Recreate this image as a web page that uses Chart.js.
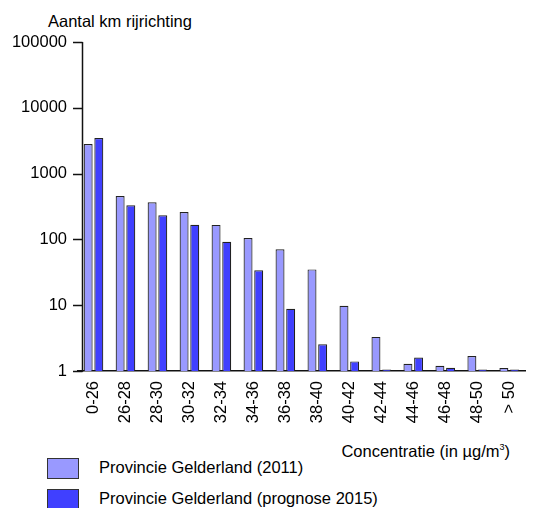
<!DOCTYPE html>
<html>
<head>
<meta charset="utf-8">
<script src="https://cdn.jsdelivr.net/npm/chart.js@4"></script>
<style>
  html, body { margin: 0; padding: 0; background: #fff; }
  body { width: 533px; height: 508px; overflow: hidden; position: relative;
         font-family: "Liberation Sans", Arial, sans-serif; font-size: 16.5px; color: #000; }
  .txt { position: absolute; line-height: 16.5px; white-space: nowrap; }
  .box { position: absolute; width: 32px; height: 21px; border: 1px solid #333; box-sizing: border-box; }
  sup { font-size: 9px; vertical-align: 7px; line-height: 0; }
</style>
</head>
<body>
<div class="txt" style="left:48px; top:13px;">Aantal km rijrichting</div>
<canvas id="myChart" width="539" height="440" style="position:absolute; left:0; top:0;"></canvas>
<div class="txt" style="right:23px; top:443px;">Concentratie (in µg/m<sup>3</sup>)</div>
<div id="legend"></div>

<script>
// klassen concentratie (x-as)
const categories = ["0-26", "26-28", "28-30", "30-32", "32-34", "34-36", "36-38",
  "38-40", "40-42", "42-44", "44-46", "46-48", "48-50", "> 50"];

// aantal km rijrichting
const values2011 = [2820, 457, 366, 261, 166, 105, 71, 35, 9.8, 3.3, 1.29, 1.2, 1.69, 1.11];
const values2015 = [3470, 330, 232, 167, 92, 34, 8.8, 2.54, 1.4, 1.05, 1.6, 1.12, 1.05, 1.05];

const seriesLabels = ["Provincie Gelderland (2011)", "Provincie Gelderland (prognose 2015)"];
const seriesColors = ["#9999ff", "#4040ff"];

// y-as ticks (log)
const yTicks = [1, 10, 100, 1000, 10000, 100000];

Chart.defaults.font.family = '"Liberation Sans", Arial, sans-serif';
Chart.defaults.font.size = 16.5;
Chart.defaults.color = "#000";

// eigen y-as lijn + streepjes (staan iets rechts van de categorie-rand)
const axisPlugin = {
  id: "axisLine",
  afterDraw(chart) {
    const ctx = chart.ctx;
    const y = chart.scales.y;
    const ax = 82.5;
    ctx.save();
    ctx.strokeStyle = "#111";
    ctx.lineWidth = 1.5;
    ctx.beginPath();
    ctx.moveTo(ax, y.getPixelForValue(yTicks[yTicks.length - 1]));
    ctx.lineTo(ax, y.getPixelForValue(yTicks[0]) + 0.75);
    for (const t of yTicks) {
      const py = Math.round(y.getPixelForValue(t)) + 0.5;
      ctx.moveTo(73, py);
      ctx.lineTo(ax, py);
    }
    ctx.stroke();
    ctx.restore();
  },
};

const ctx = document.getElementById("myChart").getContext("2d");
const myChart = new Chart(ctx, {
  type: "bar",
  data: {
    labels: categories,
    datasets: [
      {
        label: seriesLabels[0],
        data: values2011,
        backgroundColor: seriesColors[0],
        borderColor: "#222",
        borderWidth: 1.2,
        categoryPercentage: 0.667,
        barPercentage: 0.84,
      },
      {
        label: seriesLabels[1],
        data: values2015,
        backgroundColor: seriesColors[1],
        borderColor: "#222",
        borderWidth: 1.2,
        categoryPercentage: 0.667,
        barPercentage: 0.84,
      },
    ],
  },
  options: {
    responsive: false,
    animation: false,
    devicePixelRatio: 1,
    layout: { padding: { top: 42, left: 0, right: 0, bottom: 0 } },
    plugins: {
      legend: { display: false },
      tooltip: { enabled: false },
    },
    scales: {
      x: {
        offset: true,
        grid: { display: false, drawTicks: false },
        border: { display: true, color: "#111", width: 1.5 },
        ticks: { minRotation: 90, maxRotation: 90, padding: 10, autoSkip: false },
        afterFit: function (scale) {
          scale.height = 440 - 371;
        },
      },
      y: {
        type: "logarithmic",
        min: 1,
        max: 100000,
        grid: { display: false, drawTicks: false },
        border: { display: false },
        ticks: {
          padding: 10.5,
          callback: function (value) {
            return String(value);
          },
        },
        afterBuildTicks: function (scale) {
          scale.ticks = yTicks.map((v) => ({ value: v }));
        },
        afterFit: function (scale) {
          scale.width = 77.5;
        },
      },
    },
  },
  plugins: [axisPlugin],
});

// legenda onderaan
const legend = document.getElementById("legend");
seriesLabels.forEach(function (name, i) {
  const top = 458 + i * 31;
  const box = document.createElement("div");
  box.className = "box";
  box.style.left = "47px";
  box.style.top = top + "px";
  box.style.background = seriesColors[i];
  legend.appendChild(box);
  const t = document.createElement("div");
  t.className = "txt";
  t.style.left = "99px";
  t.style.top = top + 1 + "px";
  t.textContent = name;
  legend.appendChild(t);
});
</script>
</body>
</html>
